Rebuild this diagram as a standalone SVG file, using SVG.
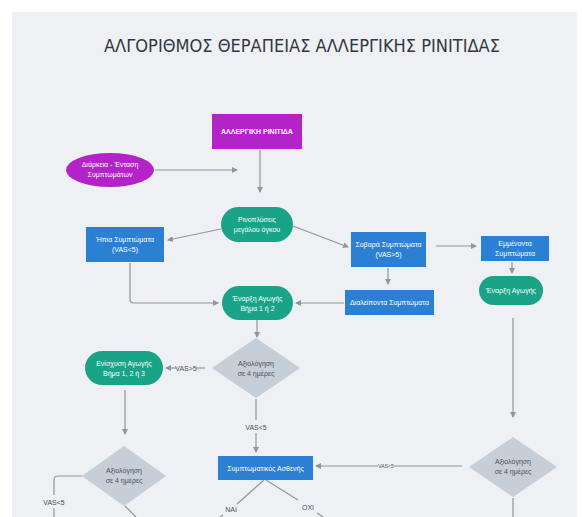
<svg xmlns="http://www.w3.org/2000/svg" width="582" height="517" viewBox="0 0 582 517">
<defs>
<style>
.bg{fill:#eff0f4}
.t{font-family:"Liberation Sans","Noto Sans",sans-serif;fill:#fff;font-size:7px;text-anchor:middle}
.title{font-family:"DejaVu Sans Condensed","Liberation Sans",sans-serif;fill:#33383f;font-size:17px;text-anchor:middle}
.lbl{font-family:"Liberation Sans","Noto Sans",sans-serif;fill:#4a5058;font-size:7px;text-anchor:middle}
.sm{font-size:5px}
.dt{font-family:"Liberation Sans","Noto Sans",sans-serif;fill:#4a5058;font-size:7px;text-anchor:middle}
.mag{fill:#b423c8}
.teal{fill:#1aa487}
.blue{fill:#2c80d3}
.dia{fill:#c6ced7}
.c{fill:none;stroke:#8e969e;stroke-width:1.2}
</style>
<marker id="ah" viewBox="0 0 6 6" refX="5" refY="3" markerWidth="5" markerHeight="5" orient="auto">
<path d="M0,0 L6,3 L0,6 z" fill="#8e969e"/>
</marker>
</defs>
<rect width="582" height="517" fill="#fff"/>
<rect class="bg" x="12" y="12" width="565" height="505"/>
<text class="title" x="302" y="52" textLength="396" lengthAdjust="spacingAndGlyphs">ΑΛΓΟΡΙΘΜΟΣ ΘΕΡΑΠΕΙΑΣ ΑΛΛΕΡΓΙΚΗΣ ΡΙΝΙΤΙΔΑΣ</text>

<g id="connectors">
<path class="c" d="M155,170 L237,170" marker-end="url(#ah)"/>
<path class="c" d="M260,150 L260,192" marker-end="url(#ah)"/>
<path class="c" d="M221,229 L168,240" marker-end="url(#ah)"/>
<path class="c" d="M293,226 L348,247" marker-end="url(#ah)"/>
<path class="c" d="M436,246 L476,246" marker-end="url(#ah)"/>
<path class="c" d="M512,262 L512,273" marker-end="url(#ah)"/>
<path class="c" d="M388,268 L388,284" marker-end="url(#ah)"/>
<path class="c" d="M344,303 L296,303" marker-end="url(#ah)"/>
<path class="c" d="M130,263 L130,299 Q130,303 134,303 L218,303" marker-end="url(#ah)"/>
<path class="c" d="M257,320 L257,337" marker-end="url(#ah)"/>
<path class="c" d="M205,368 L196,368"/>
<path class="c" d="M176,368 L166,368" marker-end="url(#ah)"/>
<path class="c" d="M125,390 L125,434" marker-end="url(#ah)"/>
<path class="c" d="M256,399 L256,420"/>
<path class="c" d="M256,433 L256,452" marker-end="url(#ah)"/>
<path class="c" d="M82,476 L58,476 Q54,476 54,480 L54,495"/>
<path class="c" d="M54,508 L54,517"/>
<path class="c" d="M125,506 L136,517"/>
<path class="c" d="M513,318 L513,417" marker-end="url(#ah)"/>
<path class="c" d="M462,466 L394,466"/>
<path class="c" d="M378,466 L316,466" marker-end="url(#ah)"/>
<path class="c" d="M264,480 L237,504"/>
<path class="c" d="M223,515 L220,517"/>
<path class="c" d="M266,480 L298,500"/>
<path class="c" d="M317,513 L323,517"/>
<path class="c" d="M513,498 L513,517"/>
<text class="lbl" x="186" y="370.5">VAS&gt;5</text>
<text class="lbl" x="256" y="429.5">VAS&lt;5</text>
<text class="lbl" x="54" y="504.5">VAS&lt;5</text>
<text class="lbl sm" x="386" y="468">VAS&lt;5</text>
<text class="lbl" x="231" y="511.5">ΝΑΙ</text>
<text class="lbl" x="308" y="509.5">ΟΧΙ</text>
</g>

<g id="n-allergiki">
<rect class="mag" x="212" y="114" width="90" height="35"/>
<text class="t" x="257" y="134" font-weight="bold">ΑΛΛΕΡΓΙΚΗ ΡΙΝΙΤΙΔΑ</text>
</g>
<g id="n-diarkeia">
<ellipse class="mag" cx="110" cy="170" rx="44" ry="17"/>
<text class="t" x="110" y="167">Διάρκεια - Ένταση</text>
<text class="t" x="110" y="177">Συμπτωμάτων</text>
</g>
<g id="n-rinoplyseis">
<rect class="teal" x="221" y="207" width="72" height="35" rx="17.5"/>
<text class="t" x="257" y="222">Ρινοπλύσεις</text>
<text class="t" x="257" y="232">μεγάλου όγκου</text>
</g>
<g id="n-ipia">
<rect class="blue" x="86" y="227" width="78" height="35"/>
<text class="t" x="125" y="242">Ήπια Συμπτώματα</text>
<text class="t" x="125" y="252">(VAS&lt;5)</text>
</g>
<g id="n-sobara">
<rect class="blue" x="351" y="232" width="75" height="35"/>
<text class="t" x="388.5" y="247">Σοβαρά Συμπτώματα</text>
<text class="t" x="388.5" y="257">(VAS&gt;5)</text>
</g>
<g id="n-emmenonta">
<rect class="blue" x="481" y="236" width="68" height="25"/>
<text class="t" x="515" y="246">Εμμένοντα</text>
<text class="t" x="515" y="256">Συμπτώματα</text>
</g>
<g id="n-enarxi2">
<rect class="teal" x="479" y="276" width="64" height="29" rx="14.5"/>
<text class="t" x="511" y="293">Έναρξη Αγωγής</text>
</g>
<g id="n-dialeiponta">
<rect class="blue" x="345" y="290" width="89" height="25"/>
<text class="t" x="389.5" y="305">Διαλείποντα Συμπτώματα</text>
</g>
<g id="n-enarxi">
<rect class="teal" x="222" y="286" width="71" height="34" rx="17"/>
<text class="t" x="257.5" y="301">Έναρξη Αγωγής</text>
<text class="t" x="257.5" y="311">Βήμα 1 ή 2</text>
</g>
<g id="n-axiologisi1">
<polygon class="dia" points="256,338 300,368 256,398 212,368"/>
<text class="dt" x="256" y="366">Αξιολόγηση</text>
<text class="dt" x="256" y="376">σε 4 ημέρες</text>
</g>
<g id="n-enisxysi">
<rect class="teal" x="85" y="351" width="78" height="34" rx="17"/>
<text class="t" x="124" y="366">Ενίσχυση Αγωγής</text>
<text class="t" x="124" y="376">Βήμα 1, 2 ή 3</text>
</g>
<g id="n-axiologisi2">
<polygon class="dia" points="124,446 166,476 124,506 82,476"/>
<text class="dt" x="124" y="473">Αξιολόγηση</text>
<text class="dt" x="124" y="483">σε 4 ημέρες</text>
</g>
<g id="n-symptomatikos">
<rect class="blue" x="218" y="456" width="95" height="24"/>
<text class="t" x="265.5" y="470.5">Συμπτωματικός Ασθενής</text>
</g>
<g id="n-axiologisi3">
<polygon class="dia" points="513,437 557,467 513,497 469,467"/>
<text class="dt" x="513" y="464">Αξιολόγηση</text>
<text class="dt" x="513" y="474">σε 4 ημέρες</text>
</g>
</svg>
